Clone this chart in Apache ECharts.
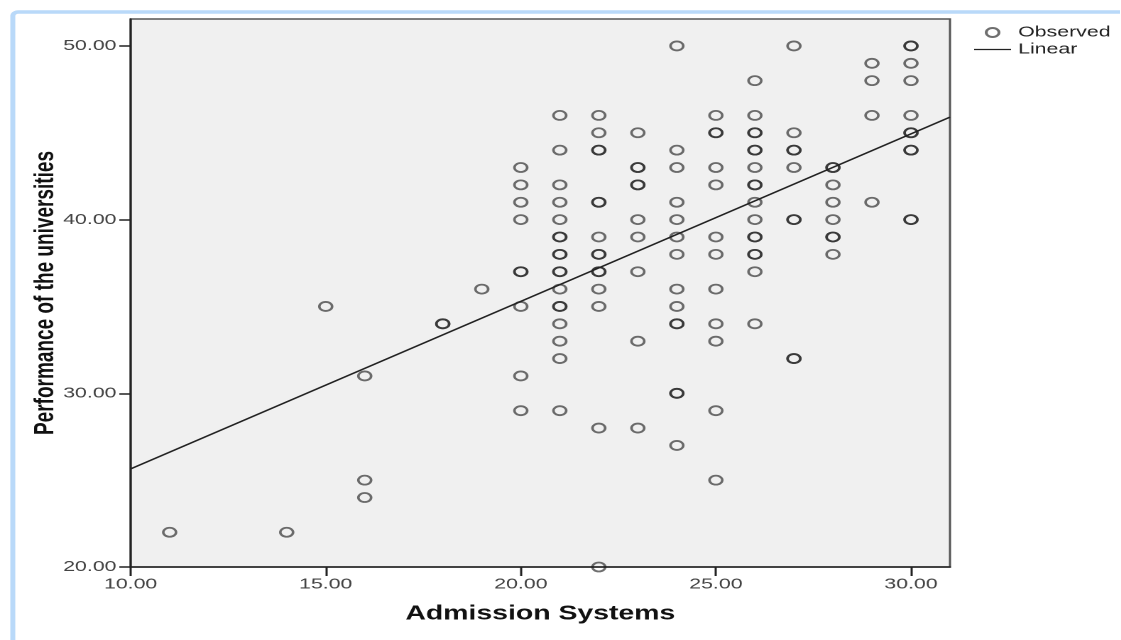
<!DOCTYPE html>
<html>
<head>
<meta charset="utf-8">
<script src="https://cdn.jsdelivr.net/npm/echarts@6/dist/echarts.min.js"></script>
<style>
  html, body { margin: 0; padding: 0; background: #fff; overflow: hidden; }
  /* the source picture is stretched sideways, so the chart is drawn narrow and widened */
  #chart { width: 789px; height: 640px; transform: scaleX(1.42); transform-origin: 0 0; }
</style>
</head>
<body>
<div id="chart"></div>
<script>
// observed points, one entry per case (repeated values drawn on top of each other)
const admission = [
  11, 14, 15, 16, 16, 16, 18, 18, 19,
  20, 20, 20, 20, 20, 20, 20, 20, 20,
  21, 21, 21, 21, 21, 21, 21, 21, 21, 21, 21, 21, 21, 21, 21, 21, 21, 21,
  22, 22, 22, 22, 22, 22, 22, 22, 22, 22, 22, 22, 22, 22, 22,
  23, 23, 23, 23, 23, 23, 23, 23, 23, 23,
  24, 24, 24, 24, 24, 24, 24, 24, 24, 24, 24, 24, 24, 24,
  25, 25, 25, 25, 25, 25, 25, 25, 25, 25, 25, 25,
  26, 26, 26, 26, 26, 26, 26, 26, 26, 26, 26, 26, 26, 26, 26, 26, 26,
  27, 27, 27, 27, 27, 27, 27, 27, 27,
  28, 28, 28, 28, 28, 28, 28, 28,
  29, 29, 29, 29,
  30, 30, 30, 30, 30, 30, 30, 30, 30, 30, 30
]
const performance = [
  22, 22, 35, 31, 25, 24, 34, 34, 36,
  43, 42, 41, 40, 37, 37, 35, 31, 29,
  46, 44, 42, 41, 40, 39, 39, 38, 38, 37, 37, 36, 35, 35, 34, 33, 32, 29,
  46, 45, 44, 44, 41, 41, 39, 38, 38, 37, 37, 36, 35, 28, 20,
  45, 43, 43, 42, 42, 40, 39, 37, 33, 28,
  50, 44, 43, 41, 40, 39, 38, 36, 35, 34, 34, 30, 30, 27,
  46, 45, 45, 43, 42, 39, 38, 36, 34, 33, 29, 25,
  48, 46, 45, 45, 44, 44, 43, 42, 42, 41, 40, 39, 39, 38, 38, 37, 34,
  50, 45, 44, 44, 43, 40, 40, 32, 32,
  43, 43, 42, 41, 40, 39, 39, 38,
  49, 48, 46, 41,
  50, 50, 49, 48, 46, 45, 45, 44, 44, 40, 40
]
const fitX = [10, 31]
const fitY = [25.65, 45.9]

const xTicks = [10, 15, 20, 25, 30]
const yTicks = [20, 30, 40, 50]

const chart = echarts.init(document.getElementById('chart'), null, { devicePixelRatio: 2 })

const option = {
  backgroundColor: '#fff',
  textStyle: { fontFamily: 'Liberation Sans, Arial, sans-serif' },
  graphic: [
    {
      type: 'rect',
      shape: { x: 9, y: 12, width: 820, height: 700, r: 4 },
      style: { fill: 'none', stroke: '#b9d9f9', lineWidth: 3.5 },
      silent: true
    }
  ],
  legend: {
    orient: 'vertical',
    left: 681,
    top: 20,
    itemWidth: 26,
    itemHeight: 9,
    itemGap: 2,
    textStyle: { fontSize: 15, color: '#222' },
    data: [
      { name: 'Observed' },
      // plain line for the fit, no marker in the middle
      { name: 'Linear', icon: 'path://M0,0 L26,0 L26,1.3 L0,1.3 Z' }
    ]
  },
  grid: {
    left: 92,
    top: 19,
    width: 577,
    height: 548,
    show: true,
    backgroundColor: '#f0f0f0',
    borderColor: '#555',
    borderWidth: 1.5
  },
  xAxis: {
    type: 'value',
    min: xTicks[0],
    max: 31,
    interval: 5,
    name: 'Admission Systems',
    nameLocation: 'middle',
    nameGap: 37,
    nameMoveOverlap: false,
    nameTextStyle: { fontSize: 20, fontWeight: 'bold', color: '#111' },
    axisLine: { lineStyle: { color: '#222', width: 1.5 } },
    axisTick: { length: 9, lineStyle: { color: '#222', width: 1.5 } },
    axisLabel: {
      margin: 10,
      fontSize: 15,
      color: '#444',
      showMaxLabel: false,
      formatter: v => xTicks.includes(v) ? v.toFixed(2) : ''
    },
    splitLine: { show: false }
  },
  yAxis: {
    type: 'value',
    min: yTicks[0],
    max: 51.55,
    interval: 10,
    name: 'Performance of the universities',
    nameLocation: 'middle',
    nameGap: 50,
    nameMoveOverlap: false,
    nameRotate: 90,
    nameTextStyle: { fontSize: 19, fontWeight: 'bold', color: '#111' },
    axisLine: { lineStyle: { color: '#222', width: 1.5 } },
    axisTick: { length: 8, lineStyle: { color: '#222', width: 1.5 } },
    axisLabel: {
      margin: 10,
      fontSize: 15,
      color: '#444',
      showMaxLabel: false,
      formatter: v => yTicks.includes(v) ? v.toFixed(2) : ''
    },
    splitLine: { show: false }
  },
  series: [
    {
      name: 'Observed',
      type: 'scatter',
      symbol: 'circle',
      symbolSize: 9,
      data: admission.map((x, i) => [x, performance[i]]),
      itemStyle: {
        color: 'rgba(0,0,0,0)',
        borderColor: 'rgba(30,30,30,0.8)',
        borderWidth: 1.8
      },
      emphasis: { disabled: true },
      z: 3
    },
    {
      name: 'Linear',
      type: 'line',
      symbol: 'none',
      data: fitX.map((x, i) => [x, fitY[i]]),
      lineStyle: { color: '#222', width: 1.5 },
      itemStyle: { color: '#222' },
      z: 4
    }
  ]
}

chart.setOption(option)
</script>
</body>
</html>
